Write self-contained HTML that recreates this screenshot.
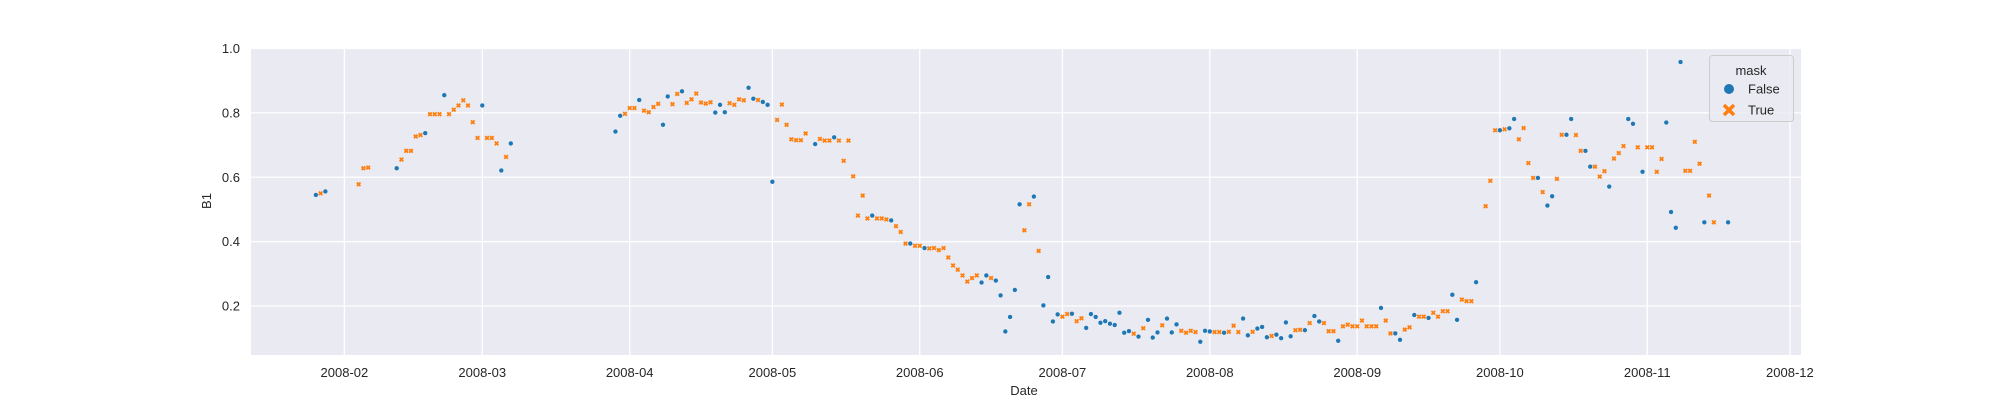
<!DOCTYPE html>
<html><head><meta charset="utf-8"><style>
body{margin:0;background:#fff;}
svg{display:block;font-family:"Liberation Sans",Arial,sans-serif;}
</style></head><body>
<svg id="chart" width="2000" height="400" viewBox="0 0 2000 400" xmlns="http://www.w3.org/2000/svg">
<rect x="251" y="48.5" width="1550" height="306.5" fill="#eaeaf2"/>
<g id="grid"></g>
<g id="xticks"></g>
<g id="yticks"></g>
<g id="points"></g>
<text x="1024" y="395" font-size="13" text-anchor="middle" fill="#262626">Date</text>
<text x="0" y="0" font-size="13" text-anchor="middle" fill="#262626" transform="translate(211,201) rotate(-90)">B1</text>
<g>
<rect x="1709.5" y="55.5" width="84" height="66" rx="3" fill="#eaeaf2" fill-opacity="0.8" stroke="#cccccc"/>
<text x="1751" y="75" font-size="13" text-anchor="middle" fill="#262626">mask</text>
<g>
<circle cx="1729" cy="89" r="5" fill="#1f77b4"/>
<text x="1748" y="93.5" font-size="13" fill="#262626">False</text>
</g>
<g>
<path d="M1724,105 l10,10 M1734,105 l-10,10" stroke="#ff7f0e" stroke-width="3.5"/>
<text x="1748" y="114.5" font-size="13" fill="#262626">True</text>
</g>
</g>
</svg>
<script>
const days=[25,26,27,34,35,36,42,43,44,45,46,47,48,49,50,51,52,53,54,55,56,57,58,59,60,61,62,63,64,65,66,
88,89,90,91,92,93,94,95,96,97,98,99,100,101,102,103,104,105,106,107,108,109,110,111,112,113,114,115,116,117,118,119,120,121,122,123,124,125,126,127,128,130,131,132,133,134,135,136,137,138,139,140,141,142,143,144,145,146,147,148,149,150,151,152,153,154,155,156,157,158,159,160,161,162,163,164,165,166,167,168,169,170,171,172,173,174,175,176,177,178,179,180,181,182,183,184,185,186,187,188,189,190,191,
192,193,194,195,196,197,198,199,200,201,202,203,204,205,206,207,208,209,210,211,212,213,214,215,216,217,218,219,220,221,222,223,224,225,226,227,228,229,230,231,232,233,234,235,236,237,238,239,240,241,242,243,244,245,246,247,248,249,250,251,252,253,254,255,256,257,258,259,260,261,262,263,264,265,266,267,268,269,
271,272,273,274,275,276,277,278,279,280,281,282,283,284,285,286,287,288,289,290,291,292,293,294,295,296,297,298,299,300,301,302,303,304,305,306,307,308,309,310,311,312,313,314,315,316,317,318,319,322];
const values=[.545,.550,.556,.578,.628,.630,.628,.655,.682,.682,.727,.731,.737,.796,.796,.796,.855,.796,.810,.823,.839,.823,.771,.722,.823,.722,.722,.705,.621,.663,.705,
.742,.791,.797,.815,.815,.840,.807,.802,.818,.828,.763,.851,.827,.859,.867,.831,.842,.860,.832,.829,.833,.801,.825,.802,.830,.825,.842,.839,.878,.844,.840,.834,.825,.586,.778,.826,.763,.718,.715,.715,.736,.703,.719,.714,.714,.724,.714,.651,.714,.603,.481,.543,.472,.481,.472,.472,.469,.466,.448,.430,.394,.394,.387,.387,.380,.379,.380,.374,.380,.351,.326,.313,.295,.276,.287,.295,.273,.295,.287,.279,.233,.121,.166,.250,.516,.435,.516,.540,.371,.202,.290,.152,.174,.167,.175,.176,.153,.162,.132,.175,.166,.148,.153,
.145,.141,.179,.117,.122,.114,.105,.131,.157,.102,.118,.140,.161,.118,.143,.123,.117,.123,.119,.089,.123,.121,.119,.119,.117,.120,.139,.119,.161,.109,.120,.130,.135,.103,.107,.111,.100,.149,.106,.125,.126,.125,.147,.169,.152,.147,.122,.122,.092,.137,.142,.137,.137,.155,.137,.137,.137,.194,.155,.115,.115,.095,.127,.134,.172,.167,.167,.163,.179,.167,.184,.184,.235,.157,.220,.215,.215,.274,
.510,.589,.746,.746,.749,.752,.781,.718,.753,.644,.598,.598,.554,.512,.541,.595,.732,.732,.781,.731,.682,.682,.633,.633,.602,.619,.571,.658,.675,.697,.781,.766,.693,.617,.693,.693,.617,.657,.770,.492,.443,.958,.620,.620,.710,.642,.460,.543,.460,.460];
const mask=[0,1,0,1,1,1,0,1,1,1,1,1,0,1,1,1,0,1,1,1,1,1,1,1,0,1,1,1,0,1,0,
0,0,1,1,1,0,1,1,1,1,0,0,1,1,0,1,1,1,1,1,1,0,0,0,1,1,1,1,0,0,1,0,0,0,1,1,1,1,1,1,1,0,1,1,1,0,1,1,1,1,1,1,1,0,1,1,1,0,1,1,1,0,1,1,0,1,1,1,1,1,1,1,1,1,1,1,0,0,1,0,0,0,0,0,0,1,1,0,1,0,0,0,0,1,1,0,1,1,0,0,0,0,0,
0,0,0,0,0,1,0,1,0,0,0,1,0,0,0,1,1,1,1,0,0,0,1,1,0,1,1,1,0,0,1,0,0,0,1,0,0,0,0,1,1,0,1,0,0,1,1,1,0,1,1,1,1,1,1,1,1,0,1,1,0,0,1,1,0,1,1,0,1,1,1,1,0,0,1,1,1,0,
1,1,1,0,1,0,0,1,1,1,1,0,1,0,0,1,1,0,0,1,1,0,0,1,1,1,0,1,1,1,0,0,1,0,1,1,1,1,0,0,0,0,1,1,1,1,0,1,1,0];
const xTickDays=[31,60,91,121,152,182,213,244,274,305,335];
const xTickLabels=["2008-02","2008-03","2008-04","2008-05","2008-06","2008-07","2008-08","2008-09","2008-10","2008-11","2008-12"];
const yTickValues=[0.2,0.4,0.6,0.8,1.0];
const yTickLabels=["0.2","0.4","0.6","0.8","1.0"];

const NS="http://www.w3.org/2000/svg";
function xScale(d){return 344.4+(d-31)*4.755;}
function yScale(v){return 48.5+(1-v)*321.9;}
function mk(tag,attrs,parent){const e=document.createElementNS(NS,tag);for(const k in attrs)e.setAttribute(k,attrs[k]);parent.appendChild(e);return e;}
const grid=document.getElementById('grid'),xt=document.getElementById('xticks'),yt=document.getElementById('yticks'),pts=document.getElementById('points');
xTickDays.forEach((d,i)=>{
  const x=xScale(d);
  const l=mk('line',{x1:x,x2:x,y1:48.5,y2:355,stroke:'#fff','stroke-width':1.3},grid);
  
  
  const t=mk('text',{x:x,y:377,'font-size':13,'text-anchor':'middle',fill:'#262626'},xt);
  t.textContent=xTickLabels[i];
  
  
});
yTickValues.forEach((v,i)=>{
  const y=yScale(v);
  const l=mk('line',{x1:251,x2:1801,y1:y,y2:y,stroke:'#fff','stroke-width':1.3},grid);
  
  
  const t=mk('text',{x:240,y:y+4.5,'font-size':13,'text-anchor':'end',fill:'#262626'},yt);
  t.textContent=yTickLabels[i];
  
  
});
days.forEach((d,i)=>{
  const x=xScale(d),y=yScale(values[i]);
  let e;
  if(mask[i]){
    e=mk('path',{d:`M${x-1.8},${y-1.8}L${x+1.8},${y+1.8}M${x+1.8},${y-1.8}L${x-1.8},${y+1.8}`,stroke:'#ff7f0e','stroke-width':1.8},pts);
    
  } else {
    e=mk('circle',{cx:x,cy:y,r:2.4,fill:'#1f77b4',stroke:'#fff','stroke-width':0.4},pts);
    
  }
  
});
</script>
</body></html>
